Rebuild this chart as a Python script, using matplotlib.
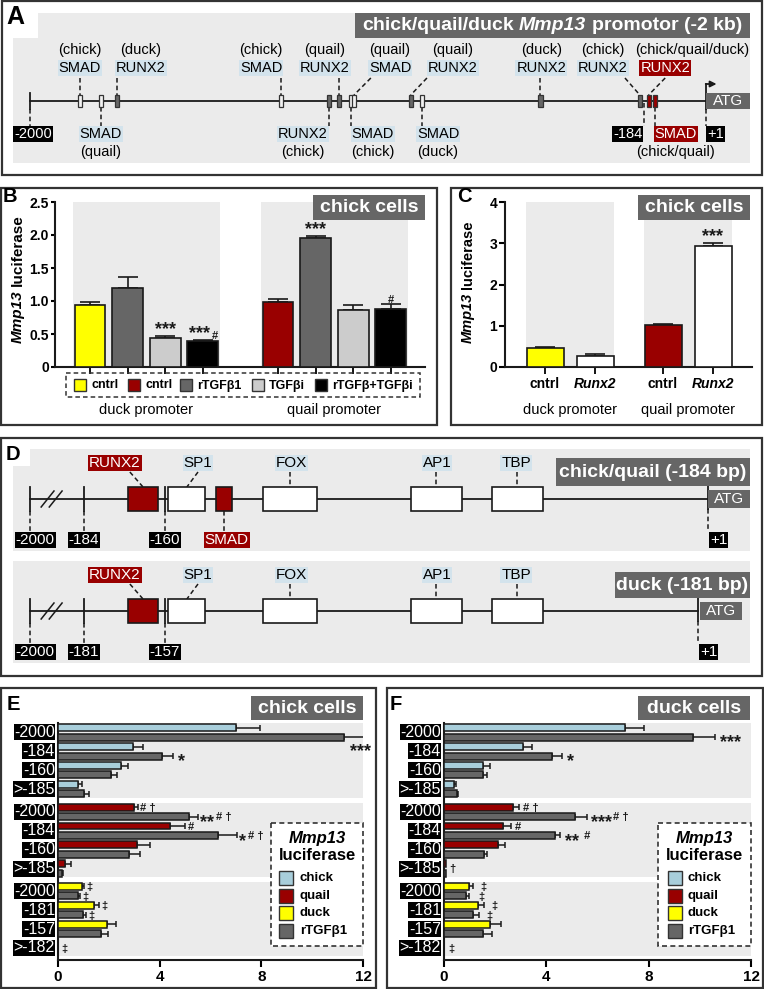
import numpy as np
import matplotlib
matplotlib.use('Agg')
import matplotlib.pyplot as plt
from matplotlib.patches import Rectangle

plt.rcParams['font.family'] = ['Liberation Sans', 'DejaVu Sans']
plt.rcParams['axes.linewidth'] = 1.5

W, H = 764, 989

# colours
BG = '#ebebeb'
DGRAY = '#666666'
LGRAY = '#cccccc'
RED = '#990000'
YEL = '#ffff00'
LBLUE = '#a8cedb'
TAG = '#d3e3ec'
INK = '#1a1a1a'
DASH = (0, (3, 2))

# ---------------- data ----------------
# A: binding sites on the -2 kb promoter (bp)
a_site_bp = [-1852, -1790, -1743, -1258, -1116, -1086, -1050, -1041, -873, -841, -489, -195, -169, -151]
a_factor = ['SMAD', 'SMAD', 'RUNX2', 'SMAD', 'RUNX2', 'RUNX2', 'SMAD', 'SMAD',
            'RUNX2', 'SMAD', 'RUNX2', 'RUNX2', 'RUNX2', 'SMAD']
a_species = ['chick', 'quail', 'duck', 'chick', 'chick', 'quail', 'chick', 'quail',
             'quail', 'duck', 'duck', 'chick', 'chick/quail/duck', 'chick/quail']
a_side = ['up', 'down', 'up', 'up', 'down', 'up', 'down', 'up', 'up', 'down', 'up', 'up', 'up', 'down']
a_label_bp = [-1852, -1790, -1671, -1316, -1192, -1127, -985, -934, -748, -792, -487, -304, -120, -88]
a_species_bp = [-1852, -1790, -1671, -1316, -1192, -1127, -985, -934, -748, -792, -487, -304, -40, -88]
a_conn_bp = [-1852, -1790, -1743, -1258, -1116, -1086, -1050, -991, -825, -841, -489, -239, -120, -151]

# B: luciferase, chick cells
b_legend = ['cntrl', 'cntrl', 'rTGFβ1', 'TGFβi', 'rTGFβ+TGFβi']
b_groups = ['duck promoter', 'quail promoter']
b_duck = [0.94, 1.20, 0.44, 0.39]
b_duck_err = [0.04, 0.16, 0.03, 0.02]
b_quail = [0.99, 1.95, 0.86, 0.88]
b_quail_err = [0.04, 0.04, 0.08, 0.07]
b_sig = ['', '', '***', '***#', '', '***', '', '#']

# C: Runx2 overexpression, chick cells
c_ticks = ['cntrl', 'Runx2', 'cntrl', 'Runx2']
c_vals = [0.46, 0.27, 1.03, 2.93]
c_err = [0.03, 0.04, 0.02, 0.08]
c_sig = ['', '', '', '***']

# D: proximal promoter elements (bp)
d_cq_names = ['RUNX2', 'SP1', 'SMAD', 'FOX', 'AP1', 'TBP']
d_cq_start = [-171, -159, -145, -131, -87, -63]
d_cq_end = [-162, -148, -140, -115, -72, -48]
d_cq_side = ['up', 'up', 'down', 'up', 'up', 'up']
d_cq_label = [-174.8, -150.2, -141.7, -122.6, -79.3, -55.9]
d_cq_conn = [-170.4, -150.2, -142.5, -123.0, -79.5, -55.5]
d_duck_names = ['RUNX2', 'SP1', 'FOX', 'AP1', 'TBP']
d_duck_start = [-168, -156, -128, -84, -60]
d_duck_end = [-159, -145, -112, -69, -45]
d_duck_side = ['up', 'up', 'up', 'up', 'up']
d_duck_label = [-171.8, -147.2, -119.6, -76.3, -52.9]
d_duck_conn = [-167.4, -147.2, -120.0, -76.5, -52.5]

# E/F: deletion constructs
row_labels = ['-2000', '-184', '-160', '>-185', '-2000', '-184', '-160', '>-185',
              '-2000', '-181', '-157', '>-182']
ef_legend = ['chick', 'quail', 'duck', 'rTGFβ1']
e_native = [7.00, 2.94, 2.47, 0.80, 3.00, 4.41, 3.10, 0.28, 0.93, 1.43, 1.92, 0.0]
e_native_err = [0.94, 0.42, 0.30, 0.16, 0.14, 0.59, 0.50, 0.22, 0.10, 0.18, 0.35, 0.0]
e_tgf = [11.27, 4.10, 2.08, 1.02, 5.17, 6.29, 2.78, 0.15, 0.80, 0.97, 1.68, 0.0]
e_tgf_err = [0.85, 0.43, 0.26, 0.21, 0.33, 0.75, 0.45, 0.04, 0.07, 0.13, 0.30, 0.0]
f_native = [7.07, 3.10, 1.54, 0.39, 2.71, 2.29, 2.12, 0.08, 0.99, 1.31, 1.80, 0.0]
f_native_err = [0.75, 0.35, 0.26, 0.08, 0.23, 0.33, 0.26, 0.0, 0.16, 0.26, 0.43, 0.0]
f_tgf = [9.74, 4.23, 1.54, 0.52, 5.14, 4.34, 1.56, 0.06, 0.86, 1.15, 1.54, 0.0]
f_tgf_err = [0.85, 0.39, 0.16, 0.04, 0.45, 0.20, 0.13, 0.0, 0.13, 0.22, 0.33, 0.0]
# (row, bar: n=native t=rTGFb1 c=row, text, dx, dy)
e_notes = [(0, 't', '***', -0.62, 0.47), (1, 't', '*', 0.2, 0), (4, 'n', '# †', 0.1, 0),
           (4, 't', '**# †', 0.1, 0), (5, 'n', '#', 0.1, 0), (5, 't', '*# †', 0.1, 0),
           (8, 'n', '‡', 0.1, 0), (8, 't', '‡', 0.1, 0), (9, 'n', '‡', 0.1, 0),
           (9, 't', '‡', 0.1, 0), (11, 'c', '‡', 0.15, 0)]
f_notes = [(0, 't', '***', 0.2, 0), (1, 't', '*', 0.2, 0), (4, 'n', '# †', 0.13, 0),
           (4, 't', '***# †', 0.14, 0), (5, 'n', '#', 0.15, 0), (5, 't', '** #', 0.2, 0),
           (7, 'c', '†', 0.2, 0), (8, 'n', '‡', 0.26, 0), (8, 't', '‡', 0.36, 0),
           (9, 'n', '‡', 0.29, 0), (9, 't', '‡', 0.3, 0), (11, 'c', '‡', 0.15, 0)]

fig = plt.figure(figsize=(W / 100, H / 100), dpi=100)


def ax_px(x0, y0, x1, y1):
    return fig.add_axes([x0 / W, 1 - y1 / H, (x1 - x0) / W, (y1 - y0) / H])


def tag(ax, x, y, s, fc, color='black', size=10.5, ha='center', pad=0.06, **kw):
    return ax.text(x, y, s, ha=ha, va='center', fontsize=size, color=color, clip_on=False,
                   bbox=dict(boxstyle=f'square,pad={pad}', fc=fc, ec='none'), **kw)


def place_parts(x, y, parts, size, color='black', rotation=0, weight='bold', gap=0.28):
    # parts: (text, style); x, y: centre in px from top-left
    r = fig.canvas.get_renderer()
    ws = []
    for s, st in parts:
        t = fig.text(0, 0, s, fontsize=size, fontstyle=st, fontweight=weight)
        ws.append(t.get_window_extent(r).width)
        t.remove()
    sp = gap * size * 100 / 72
    pos = -(sum(ws) + sp * (len(parts) - 1)) / 2
    for (s, st), w in zip(parts, ws):
        c = pos + w / 2
        px, py = (x + c, y) if rotation == 0 else (x, y - c)
        fig.text(px / W, 1 - py / H, s, fontsize=size, fontstyle=st, fontweight=weight,
                 color=color, rotation=rotation, ha='center', va='center')
        pos += w + sp


def sig(ax, x, y, s, mode):
    n = len(s) - len(s.lstrip('*'))
    rest = s[n:]
    star_w = n * 0.389 * 13
    rest_w = len(rest) * 0.5 * 8
    if mode == 'above':
        x0 = -(star_w + rest_w) / 2
        d_star, d_rest = 1, 1
    else:
        x0 = 0
        d_star, d_rest = -7.5, -2.8
    kw = dict(xycoords='data', textcoords='offset points', ha='left', va='baseline',
              fontweight='bold', annotation_clip=False, color=INK)
    if n:
        ax.annotate('*' * n, (x, y), xytext=(x0, d_star), fontsize=13, **kw)
    if rest:
        ax.annotate(rest, (x, y), xytext=(x0 + star_w + (1 if n else 0), d_rest), fontsize=8, **kw)


def style(ax):
    ax.patch.set_visible(False)
    for s in ('top', 'right'):
        ax.spines[s].set_visible(False)
    for s in ('left', 'bottom'):
        ax.spines[s].set_color(INK)


# ---------------- A ----------------
axA = ax_px(13, 13, 750, 163)
axA.set_xlim(-2050, 131)
axA.set_ylim(163, 13)
axA.set_axis_off()
axA.add_patch(Rectangle((0, 0), 1, 1, transform=axA.transAxes, fc=BG, ec='none', zorder=0))
axA.plot([-2000, 0], [101, 101], color=INK, lw=1.3, zorder=2)
axA.plot([-2000, -2000], [93, 109], color=INK, lw=1.3)
for bp, fac, sp, side, lx, sx, cx in zip(a_site_bp, a_factor, a_species, a_side,
                                         a_label_bp, a_species_bp, a_conn_bp):
    hot = '/' in sp
    fill = RED if hot else (DGRAY if fac == 'RUNX2' else '#f2f2f2')
    axA.add_patch(Rectangle((bp - 6, 95), 12, 12, fc=fill, ec='#333333', lw=0.9, zorder=3))
    tfc, tcol = (RED, 'white') if hot else (TAG, 'black')
    if side == 'up':
        axA.plot([cx, bp], [78, 95], color=INK, lw=1.1, ls=DASH)
        tag(axA, lx, 68, fac, tfc, tcol)
        axA.text(sx, 50, f'({sp})', ha='center', va='center', fontsize=10.5)
    else:
        axA.plot([bp, bp], [107, 126], color=INK, lw=1.1, ls=DASH)
        tag(axA, lx, 134, fac, tfc, tcol)
        axA.text(sx, 152, f'({sp})', ha='center', va='center', fontsize=10.5)
axA.plot([-2000, -2000], [109, 126], color=INK, lw=1.1, ls=DASH)
tag(axA, -2046, 134, '-2000', 'black', 'white', ha='left')
axA.plot([-184, -184], [103, 126], color=INK, lw=1.1, ls=DASH)
tag(axA, -188, 134, '-184', 'black', 'white', ha='right')
axA.plot([0, 0], [84, 109], color=INK, lw=1.3)
axA.annotate('', xy=(32, 84), xytext=(0, 84),
             arrowprops=dict(arrowstyle='-|>', color=INK, lw=1.3, mutation_scale=9, shrinkA=0, shrinkB=0))
axA.add_patch(Rectangle((0, 93), 131, 16, fc=DGRAY, ec='none', zorder=2))
axA.text(65, 101, 'ATG', color='white', ha='center', va='center', fontsize=11)
axA.plot([0, 0], [109, 126], color=INK, lw=1.1, ls=DASH)
tag(axA, 4, 134, '+1', 'black', 'white', ha='left')

# ---------------- B ----------------
axB = ax_px(55, 202, 425, 367)
style(axB)
pos_b = np.array([0, 1, 2, 3, 5, 6, 7, 8])
vals_b = b_duck + b_quail
errs_b = b_duck_err + b_quail_err
cols_b = [YEL, DGRAY, LGRAY, 'black', RED, DGRAY, LGRAY, 'black']
for lo, hi in [(-0.45, 3.45), (4.55, 8.45)]:
    axB.axvspan(lo, hi, fc=BG, ec='none', zorder=0)
axB.bar(pos_b, vals_b, width=0.82, color=cols_b, edgecolor=INK, lw=1.2, zorder=3)
axB.errorbar(pos_b, vals_b, yerr=[np.zeros(8), errs_b], fmt='none', ecolor=INK,
             elinewidth=1.2, capsize=7, capthick=1.2, zorder=2)
for x, v, e, s in zip(pos_b, vals_b, errs_b, b_sig):
    if s:
        sig(axB, x, v + e, s, 'above')
axB.set_xlim(-0.93, 8.91)
axB.set_ylim(0, 2.5)
axB.set_yticks(np.arange(0, 2.51, 0.5))
axB.set_yticklabels(['0', '0.5', '1.0', '1.5', '2.0', '2.5'], fontweight='bold', fontsize=10)
axB.set_xticks(pos_b)
axB.set_xticklabels([])
axB.tick_params(axis='y', length=3, width=1.5, pad=1.5)
axB.tick_params(axis='x', length=5, width=1.3)
axB.text(1.5, -0.65, b_groups[0], ha='center', va='center', fontsize=10.5)
axB.text(6.5, -0.65, b_groups[1], ha='center', va='center', fontsize=10.5)

# ---------------- C ----------------
axC = ax_px(505, 202, 752, 367)
style(axC)
pos_c = np.array([0, 1, 2.36, 3.36])
for lo, hi in [(-0.38, 1.38), (1.98, 3.74)]:
    axC.axvspan(lo, hi, fc=BG, ec='none', zorder=0)
axC.bar(pos_c, c_vals, width=0.74, color=[YEL, 'white', RED, 'white'], edgecolor=INK, lw=1.2, zorder=3)
axC.errorbar(pos_c, c_vals, yerr=[np.zeros(4), c_err], fmt='none', ecolor=INK,
             elinewidth=1.2, capsize=7.5, capthick=1.2, zorder=2)
for x, v, e, s in zip(pos_c, c_vals, c_err, c_sig):
    if s:
        sig(axC, x, v + e, s, 'above')
axC.set_xlim(-0.8, 4.14)
axC.set_ylim(0, 4)
axC.set_yticks([0, 1, 2, 3, 4])
axC.set_yticklabels(['0', '1', '2', '3', '4'], fontweight='bold', fontsize=10)
axC.set_xticks(pos_c)
axC.set_xticklabels(c_ticks, fontweight='bold', fontsize=10)
for t in axC.get_xticklabels():
    if t.get_text() == 'Runx2':
        t.set_fontstyle('italic')
axC.tick_params(axis='y', length=4, width=1.5, pad=1.5)
axC.tick_params(axis='x', length=5, width=1.3, pad=2.2)
axC.text(0.5, -1.04, 'duck promoter', ha='center', va='center', fontsize=10.5)
axC.text(2.86, -1.04, 'quail promoter', ha='center', va='center', fontsize=10.5)


# ---------------- D ----------------
def short_promoter(y0, y1, xlim, names, starts, ends, sides, label_x, conn_x,
                   marks, mark_bp, mark_lx, atg):
    ax = ax_px(13, y0, 750, y1)
    ax.set_xlim(*xlim)
    ax.set_ylim(y1, y0)
    ax.set_axis_off()
    ax.add_patch(Rectangle((0, 0), 1, 1, transform=ax.transAxes, fc=BG, ec='none', zorder=0))
    L = y0 + 50
    far = mark_bp[0]
    ax.plot([far, 1], [L, L], color=INK, lw=1.3, zorder=1)
    for bp in mark_bp:
        ax.plot([bp, bp], [L - 12, L + 12], color=INK, lw=1.3)
        ax.plot([bp, bp], [L + 12, L + 32], color=INK, lw=1.1, ls=DASH)
    for lab, x in zip(marks, mark_lx):
        tag(ax, x, L + 41, lab, 'black', 'white', size=11)
    for d in (0, 2.4):
        ax.plot([far + 3.3 + d, far + 7.1 + d], [L + 8, L - 8], color=INK, lw=1.1)
    for nm, s, e, side, lx, cx in zip(names, starts, ends, sides, label_x, conn_x):
        hot = nm in ('RUNX2', 'SMAD')
        ax.add_patch(Rectangle((s, L - 12), e - s, 24, fc=RED if hot else 'white',
                               ec=INK, lw=1.2, zorder=3))
        mid = (s + e) / 2
        tfc, tc = (RED, 'white') if hot else (TAG, 'black')
        if side == 'up':
            ax.plot([cx, mid], [L - 27, L - 12], color=INK, lw=1.1, ls=DASH)
            tag(ax, lx, L - 36, nm, tfc, tc, size=11)
        else:
            ax.plot([mid, mid], [L + 12, L + 32], color=INK, lw=1.1, ls=DASH)
            tag(ax, lx, L + 41, nm, tfc, tc, size=11)
    ax.plot([1, 1], [L + 10, L - 17], color=INK, lw=1.3)
    ax.annotate('', xy=(4.5, L - 17), xytext=(1, L - 17),
                arrowprops=dict(arrowstyle='-|>', color=INK, lw=1.3, mutation_scale=8,
                                shrinkA=0, shrinkB=0))
    ax.add_patch(Rectangle((atg[0], L - 9), atg[1] - atg[0], 18, fc=DGRAY, ec='none', zorder=2))
    ax.text(sum(atg) / 2, L, 'ATG', color='white', ha='center', va='center', fontsize=11)
    ax.plot([1, 1], [L + 10, L + 32], color=INK, lw=1.1, ls=DASH)
    tag(ax, 1.6, L + 41, '+1', 'black', 'white', ha='left', size=11)
    return ax


short_promoter(449, 551, (-205.05, 13.45), d_cq_names, d_cq_start, d_cq_end, d_cq_side,
               d_cq_label, d_cq_conn, ['-2000', '-184', '-160'], [-200, -184, -160],
               [-198.5, -184, -160], (1, 13.45))
short_promoter(561, 663, (-202.05, 16.45), d_duck_names, d_duck_start, d_duck_end, d_duck_side,
               d_duck_label, d_duck_conn, ['-2000', '-181', '-157'], [-197, -181, -157],
               [-195.5, -181, -157], (1.6, 14.1))

# ---------------- E / F ----------------
rows = np.array([g * 4.2 + r + 0.5 for g in range(3) for r in range(4)])
native_cols = [LBLUE] * 4 + [RED] * 4 + [YEL] * 4


def hbar_panel(x0, x1, native, nerr, tgf, terr, notes):
    ax = ax_px(x0, 723, x1, 960)
    style(ax)
    ax.set_xlim(0, 12)
    ax.set_ylim(12.54, 0)
    for g in range(3):
        ax.axhspan(g * 4.2 + 0.02, g * 4.2 + 3.95, fc=BG, ec='none', zorder=0)
    native = np.array(native)
    tgf = np.array(tgf)
    nerr = np.array(nerr)
    terr = np.array(terr)
    mn = native > 0
    mt = tgf > 0
    ax.barh(rows[mn] - 0.25, native[mn], height=0.37, color=np.array(native_cols)[mn],
            edgecolor=INK, lw=1.1, zorder=3)
    ax.barh(rows[mt] + 0.25, tgf[mt], height=0.37, color=DGRAY, edgecolor=INK, lw=1.1, zorder=3)
    en = mn & (nerr > 0)
    et = mt & (terr > 0)
    ax.errorbar(native[en], rows[en] - 0.25, xerr=[np.zeros(en.sum()), nerr[en]], fmt='none',
                ecolor=INK, elinewidth=1.1, capsize=2.5, capthick=1.1, zorder=2)
    ax.errorbar(tgf[et], rows[et] + 0.25, xerr=[np.zeros(et.sum()), terr[et]], fmt='none',
                ecolor=INK, elinewidth=1.1, capsize=2.5, capthick=1.1, zorder=2)
    for r, lab in zip(rows, row_labels):
        ax.text(-0.12, r, lab, ha='right', va='center', color='white', fontsize=11.5,
                clip_on=False, bbox=dict(boxstyle='square,pad=0.03', fc='black', ec='none'))
    for r, b, s, dx, dy in notes:
        if b == 'n':
            x, y = native[r] + nerr[r] + dx, rows[r] - 0.25 + dy
        elif b == 't':
            x, y = tgf[r] + terr[r] + dx, rows[r] + 0.25 + dy
        else:
            x, y = dx, rows[r] + dy
        sig(ax, x, y, s, 'side')
    ax.set_yticks([])
    ax.set_xticks([0, 4, 8, 12])
    ax.set_xticklabels(['0', '4', '8', '12'], fontweight='bold', fontsize=11)
    ax.tick_params(axis='x', length=5, width=1.5, pad=2)
    return ax


hbar_panel(58, 363, e_native, e_native_err, e_tgf, e_tgf_err, e_notes)
hbar_panel(444, 751, f_native, f_native_err, f_tgf, f_tgf_err, f_notes)

# ---------------- overlay: frames, letters, headers, legends ----------------
ov = ax_px(0, 0, W, H)
ov.set_xlim(0, W)
ov.set_ylim(H, 0)
ov.set_axis_off()


def frame(x0, y0, x1, y1):
    ov.add_patch(Rectangle((x0, y0), x1 - x0, y1 - y0, fc='none', ec='#333333', lw=1.6))


def header(x0, y0, x1, y1, s, size=14):
    ov.add_patch(Rectangle((x0, y0), x1 - x0, y1 - y0, fc=DGRAY, ec='none'))
    ov.text((x0 + x1) / 2, (y0 + y1) / 2 + 0.5, s, color='white', fontweight='bold',
            fontsize=size, ha='center', va='center')


frame(2, 1, 762, 175)
frame(1, 188, 437, 425)
frame(451, 188, 762, 425)
frame(1, 438, 762, 676)
frame(1, 688, 376, 988)
frame(387, 688, 763, 988)

ov.add_patch(Rectangle((13, 13), 25, 25, fc='white', ec='none'))
ov.add_patch(Rectangle((13, 449), 17, 17, fc='white', ec='none'))
for lab, x, y, s in [('A', 6, 17, 18), ('B', 3, 197, 14.5), ('C', 457, 196, 14.5),
                     ('D', 6, 454, 14.5), ('E', 7, 705, 14.5), ('F', 390, 705, 14.5)]:
    ov.text(x, y, lab, fontsize=s, fontweight='bold', ha='left', va='center')

ov.add_patch(Rectangle((355, 13), 395, 25, fc=DGRAY, ec='none'))
place_parts(552, 26, [('chick/quail/duck', 'normal'), ('Mmp13', 'italic'),
                      ('promotor (-2 kb)', 'normal')], 14, color='white')

header(313, 195, 425, 220, 'chick cells')
header(638, 195, 750, 220, 'chick cells')
header(556, 458, 750, 486, 'chick/quail (-184 bp)')
header(615, 572, 750, 598, 'duck (-181 bp)')
header(251, 696, 363, 720, 'chick cells')
header(638, 696, 750, 720, 'duck cells')

place_parts(18, 279, [('Mmp13', 'italic'), ('luciferase', 'normal')], 11, rotation=90)
place_parts(468, 282, [('Mmp13', 'italic'), ('luciferase', 'normal')], 10.5, rotation=90)

# B legend
ov.add_patch(Rectangle((66, 373), 354, 24, fc='none', ec='#333333', lw=1.1, ls=DASH))
for sx, lab, c in zip([74, 128, 180, 252, 315], b_legend, [YEL, RED, DGRAY, LGRAY, 'black']):
    ov.add_patch(Rectangle((sx, 379), 12, 12, fc=c, ec='#333333', lw=1))
    ov.text(sx + 17, 385.5, lab, fontsize=9, fontweight='bold', ha='left', va='center')


def luc_legend(x0, x1, sx, tx):
    ov.add_patch(Rectangle((x0, 823), x1 - x0, 123, fc='white', ec='#333333', lw=1.2, ls=DASH))
    cx = (x0 + x1) / 2
    ov.text(cx, 838, 'Mmp13', fontsize=12, fontweight='bold', fontstyle='italic',
            ha='center', va='center')
    ov.text(cx, 855, 'luciferase', fontsize=12, fontweight='bold', ha='center', va='center')
    for y, name, c in zip([878, 896, 913, 931], ef_legend, [LBLUE, RED, YEL, DGRAY]):
        ov.add_patch(Rectangle((sx, y - 7), 14, 14, fc=c, ec='#333333', lw=1))
        ov.text(tx, y, name, fontsize=9.5, fontweight='bold', ha='left', va='center')


luc_legend(271, 363, 279, 300)
luc_legend(658, 751, 668, 688)

fig.savefig('out.png', dpi=100)
